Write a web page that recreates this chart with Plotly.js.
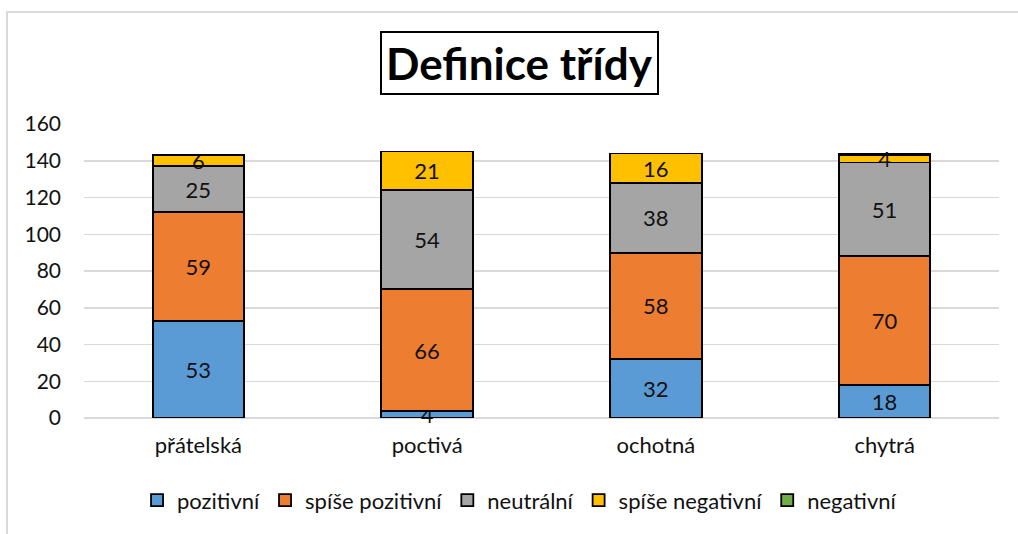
<!DOCTYPE html>
<html>
<head>
<meta charset="utf-8">
<script src="https://cdn.plot.ly/plotly-3.0.1.min.js"></script>
<style>
html,body{margin:0;padding:0;background:#fff;}
#wrap{position:relative;width:1018px;height:534px;overflow:hidden;}
#frame{position:absolute;left:6px;top:11px;width:1030px;height:540px;border-left:2px solid #D9D9D9;border-top:2px solid #D9D9D9;box-sizing:border-box;pointer-events:none;}
#chart{position:absolute;left:0;top:0;width:1018px;height:534px;}
</style>
</head>
<body>
<div id="wrap"><div id="chart"></div><div id="frame"></div></div>
<script>
const categories = ["přátelská", "poctivá", "ochotná", "chytrá"];
const seriesNames = ["pozitivní", "spíše pozitivní", "neutrální", "spíše negativní", "negativní"];
const pozitivni = [53, 4, 32, 18];
const spisePozitivni = [59, 66, 58, 70];
const neutralni = [25, 54, 38, 51];
const spiseNegativni = [6, 21, 16, 4];
const negativni = [0, 0, 0, 1];
const colors = ["#5B9BD5", "#ED7D31", "#A5A5A5", "#FFC000", "#70AD47"];
const yTicks = [0, 20, 40, 60, 80, 100, 120, 140, 160];

const FONT = "Lato, 'Liberation Sans', sans-serif";
const allValues = [pozitivni, spisePozitivni, neutralni, spiseNegativni, negativni];
const traces = allValues.map((vals, i) => ({
  type: "bar",
  name: seriesNames[i],
  x: categories,
  y: vals,
  text: i === 4 ? vals.map(() => "") : vals.map(v => v ? String(v) : ""),
  textposition: "inside",
  insidetextanchor: "middle",
  textangle: 0,
  constraintext: "none",
  cliponaxis: false,
  textfont: {family: FONT, size: 22, color: "#111"},
  marker: {color: colors[i], line: {color: "#000", width: 1.8}},
  hoverinfo: "x+y+name"
}));

const layout = {
  width: 1018, height: 534,
  margin: {l: 84, r: 19, t: 124, b: 116},
  paper_bgcolor: "#fff", plot_bgcolor: "#fff",
  barmode: "stack",
  bargap: 0.6,
  showlegend: true,
  uniformtext: {minsize: 22, mode: "show"},
  legend: {
    orientation: "h", x: 0.476, xanchor: "center", y: -0.28, yanchor: "middle",
    traceorder: "normal",
    font: {family: FONT, size: 22, color: "#111"},
    itemwidth: 30
  },
  xaxis: {
    type: "category",
    tickfont: {family: FONT, size: 22, color: "#111"},
    showline: false, ticks: "", showgrid: false, zeroline: false,
    ticklabelstandoff: 12
  },
  yaxis: {
    range: [0, 160], tickvals: yTicks, ticktext: yTicks.map(String),
    tickfont: {family: FONT, size: 21, color: "#111"},
    showgrid: true, gridcolor: "#D9D9D9", gridwidth: 1.5,
    zeroline: true, zerolinecolor: "#D9D9D9", zerolinewidth: 1.5,
    showline: false, ticks: "", ticklabelstandoff: 22
  },
  annotations: [{
    text: "<b>Definice třídy</b>",
    xref: "paper", yref: "paper", x: 0.4765, y: 1, xanchor: "center", yanchor: "bottom",
    yshift: 29, showarrow: false,
    font: {family: FONT, size: 44, color: "#000"},
    bordercolor: "#000", borderwidth: 2, borderpad: 4, bgcolor: "#fff"
  }]
};

Plotly.newPlot("chart", traces, layout, {displayModeBar: false, staticPlot: true});
</script>
</body>
</html>
